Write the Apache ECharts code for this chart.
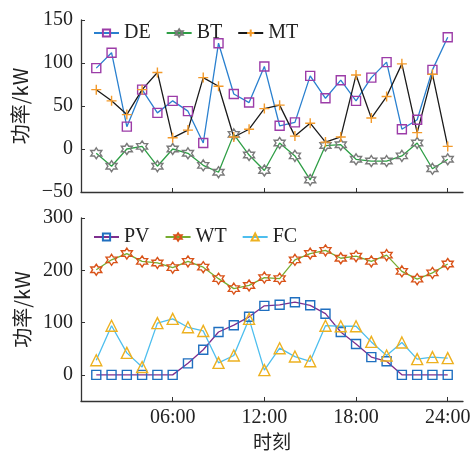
<!DOCTYPE html>
<html>
<head>
<meta charset="utf-8">
<script src="https://cdn.jsdelivr.net/npm/echarts@6/dist/echarts.min.js"></script>
<style>
  html, body { margin: 0; padding: 0; background: #fff; }
  #chart { width: 474px; height: 452px; }
</style>
</head>
<body>
<div id="chart"></div>
<script>
// hours of the day, 1..24
const hours = [1, 2, 3, 4, 5, 6, 7, 8, 9, 10, 11, 12, 13, 14, 15, 16, 17, 18, 19, 20, 21, 22, 23, 24]
const hourTicks = [6, 12, 18, 24]

// upper panel: dispatchable units (kW)
const deValues = [94, 112, 26, 69, 42, 56, 44, 7, 123, 64, 54, 96, 27, 31, 85, 59, 80, 56, 83, 101, 23, 34, 92, 130]
const btValues = [-5, -20, 0, 3, -20, 0, -5, -19, -27, 17, -7, -25, 7, -8, -36, 4, 5, -12, -14, -14, -8, 7, -23, -12]
const mtValues = [69, 56, 40, 69, 89, 13, 22, 83, 73, 14, 23, 47, 51, 15, 30, 8, 14, 86, 36, 61, 99, 19, 87, 3]

// lower panel: renewable / fuel cell output (kW)
const pvValues = [0, 0, 0, 0, 0, 0, 22, 48, 82, 95, 111, 132, 134, 139, 133, 117, 82, 59, 34, 26, 0, 0, 0, 0]
const wtValues = [201, 220, 232, 217, 214, 205, 217, 206, 184, 165, 171, 186, 184, 220, 232, 238, 223, 227, 217, 229, 198, 183, 195, 212]
const fcValues = [28, 94, 42, 15, 99, 107, 91, 84, 23, 37, 107, 9, 51, 35, 26, 94, 93, 93, 63, 37, 62, 30, 34, 32]

const upperTicks = [-50, 0, 50, 100, 150]
const lowerTicks = [0, 100, 200, 300]

const hexagram = 'path://M10,0L12.89,5L18.66,5L15.77,10L18.66,15L12.89,15L10,20L7.11,15L1.34,15L4.23,10L1.34,5L7.11,5Z'
const plus = 'path://M5,0L5,10M0,5L10,5'

const serif = '"Liberation Serif", "Times New Roman", "Noto Sans CJK SC", serif'
const cjk = '"Noto Sans CJK SC", "Liberation Serif", serif'
const ink = '#222'

function pairs(values) {
  return hours.map((h, i) => [h, values[i]])
}

function minusSign(value) {
  return String(value).replace('-', '\u2212')
}

function makeSeries(name, values, axisIndex, lineColor, markColor, symbol, size) {
  return {
    name,
    type: 'line',
    xAxisIndex: axisIndex,
    yAxisIndex: axisIndex,
    data: pairs(values),
    symbol,
    symbolSize: size,
    showAllSymbol: true,
    animation: false,
    lineStyle: { color: lineColor, width: 1.3 },
    itemStyle: { color: 'rgba(0,0,0,0)', borderColor: markColor, borderWidth: 1.4 },
    emphasis: { disabled: true },
  }
}

function xAxis(gridIndex, showLabel) {
  return {
    type: 'value',
    gridIndex,
    min: 0,
    max: 25,
    interval: 6,
    name: showLabel ? '时刻' : '',
    nameLocation: 'middle',
    nameGap: 31,
    nameTextStyle: { fontFamily: cjk, fontSize: 19, color: ink },
    axisLine: { show: true, onZero: false, lineStyle: { color: '#333', width: 1.3 } },
    axisTick: { show: true, inside: true, length: 4, customValues: hourTicks, lineStyle: { color: '#333' } },
    axisLabel: {
      show: showLabel,
      customValues: hourTicks,
      margin: 7,
      fontFamily: serif,
      fontSize: 20,
      color: ink,
      formatter: (v) => String(v).padStart(2, '0') + ':00',
    },
    splitLine: { show: false },
  }
}

function yAxis(gridIndex, min, max, ticks) {
  return {
    type: 'value',
    gridIndex,
    min,
    max,
    name: '功率/kW',
    nameLocation: 'middle',
    nameGap: 41,
    nameTextStyle: { fontFamily: cjk, fontSize: 20, color: ink },
    axisLine: { show: true, onZero: false, lineStyle: { color: '#333', width: 1.3 } },
    axisTick: { show: true, inside: true, length: 4, customValues: ticks, lineStyle: { color: '#333' } },
    axisLabel: {
      customValues: ticks,
      margin: 8,
      fontFamily: serif,
      fontSize: 20,
      color: ink,
      formatter: minusSign,
    },
    splitLine: { show: false },
  }
}

function legend(top, names) {
  return {
    data: names,
    left: 88,
    top,
    itemWidth: 25,
    itemHeight: 9,
    itemGap: 15,
    textStyle: { fontFamily: serif, fontSize: 20, color: ink },
  }
}

const chart = echarts.init(document.getElementById('chart'))

chart.setOption({
  backgroundColor: '#fff',
  animation: false,
  grid: [
    { left: 81, right: 11, top: 20, height: 172 },
    { left: 81, right: 11, top: 218, height: 188 },
  ],
  legend: [legend(18, ['DE', 'BT', 'MT']), legend(222, ['PV', 'WT', 'FC'])],
  xAxis: [xAxis(0, false), xAxis(1, true)],
  yAxis: [yAxis(0, -50, 150, upperTicks), yAxis(1, -50, 300, lowerTicks)],
  series: [
    makeSeries('DE', deValues, 0, '#2a80cf', '#9c3ca8', 'rect', 9),
    makeSeries('BT', btValues, 0, '#2e9e45', '#7a7a7a', hexagram, 11),
    makeSeries('MT', mtValues, 0, '#1a1a1a', '#f39a2a', plus, 10),
    makeSeries('PV', pvValues, 1, '#7e2f8e', '#1f6fc0', 'rect', 9),
    makeSeries('WT', wtValues, 1, '#77ac30', '#d95319', hexagram, 11),
    makeSeries('FC', fcValues, 1, '#4dbeee', '#edb120', 'triangle', 11),
  ],
})
</script>
</body>
</html>
